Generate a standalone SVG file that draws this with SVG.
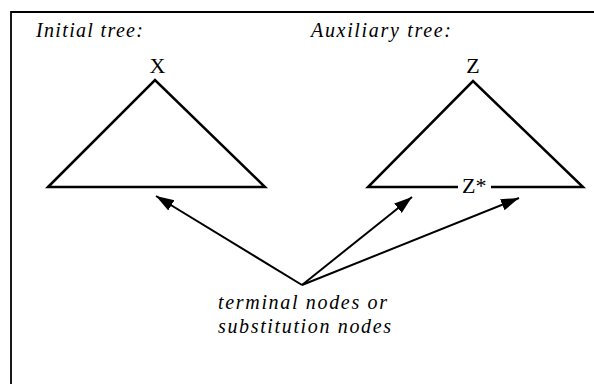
<svg xmlns="http://www.w3.org/2000/svg" width="594" height="384" viewBox="0 0 594 384">
<defs>
<style>
.frame{fill:none;stroke:#000;stroke-width:1.8}
.tri{fill:none;stroke:#000;stroke-width:2.5;stroke-linejoin:miter}
.lbl{font-family:"Liberation Serif","Times New Roman",serif;font-size:22px;fill:#000}
.it{font-family:"Liberation Serif","Times New Roman",serif;font-style:italic;font-size:20px;fill:#000}
.arr{fill:none;stroke:#000;stroke-width:2}
</style>
<marker id="ah" markerUnits="userSpaceOnUse" markerWidth="20" markerHeight="14" refX="18" refY="6" orient="auto">
<path d="M0,0 L18,6 L0,12 z" fill="#000"/>
</marker>
</defs>
<rect width="594" height="384" fill="#fff"/>
<path class="frame" d="M11,384 L11,12 L594,12"/>
<g id="initial-tree">
<text class="it" x="36" y="37" textLength="107" lengthAdjust="spacing">Initial tree:</text>
<text class="lbl" x="157.5" y="73" text-anchor="middle">X</text>
<path class="tri" d="M48,187 L155,80 L265,187 Z"/>
</g>
<g id="auxiliary-tree">
<text class="it" x="311" y="37" textLength="140" lengthAdjust="spacing">Auxiliary tree:</text>
<text class="lbl" x="473" y="73" text-anchor="middle">Z</text>
<path class="tri" d="M458,187 L368,187 L473,81 L583,187 L491,187"/>
<text class="lbl" x="462" y="193">Z*</text>
</g>
<g id="label">
<text class="it" x="218" y="309" textLength="169" lengthAdjust="spacing">terminal nodes or</text>
<text class="it" x="218" y="333" textLength="173" lengthAdjust="spacing">substitution nodes</text>
</g>
<g id="connectors">
<line class="arr" x1="302" y1="285" x2="156" y2="196" marker-end="url(#ah)"/>
<line class="arr" x1="302" y1="285" x2="412" y2="197" marker-end="url(#ah)"/>
<line class="arr" x1="302" y1="285" x2="519" y2="198" marker-end="url(#ah)"/>
</g>
</svg>
